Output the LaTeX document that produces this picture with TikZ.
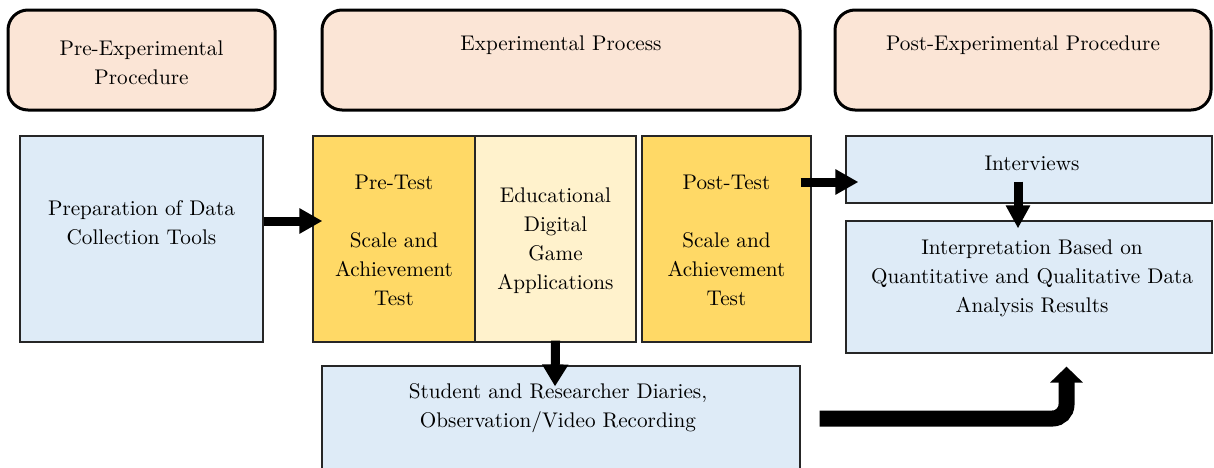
\documentclass[tikz,border=0pt]{standalone}
\usetikzlibrary{arrows.meta,calc}

\definecolor{peach}{HTML}{FBE5D6}
\definecolor{paleblue}{HTML}{DEEBF7}
\definecolor{gold}{HTML}{FFD966}
\definecolor{palegold}{HTML}{FFF2CC}

\begin{document}
\begin{tikzpicture}[x=0.5pt, y=-0.5pt,
	phase/.style={draw, line width=1.5pt, rounded corners=10pt, fill=peach, inner sep=0pt},
	stage/.style={draw=black!85, line width=0.6pt, inner sep=0pt},
	txt/.style={align=center, font=\fontsize{10.6}{14.5}\selectfont, inner sep=0pt},
	blockarrow/.style={line width=4.5pt, -{Triangle[width=12pt,length=11.5pt]}}]
	
	\clip (0,0) rectangle (1214,467);
	
	% the three phases
	\node [phase, minimum width=133.5pt, minimum height=50pt] (pre)  at ( 141.5, 60) {};
	\node [phase, minimum width=239pt,   minimum height=50pt] (exp)  at ( 561,   60) {};
	\node [phase, minimum width=188pt,   minimum height=50pt] (post) at (1023,   60) {};
	
	\node [txt] (pretxt)  at ( 141.5, 62.5) {Pre-Experimental\\Procedure};
	\node [txt] (exptxt)  at ( 561,   45)   {Experimental Process};
	\node [txt] (posttxt) at (1023,   45)   {Post-Experimental Procedure};
	
	% steps
	\node [stage, fill=paleblue, minimum width=121.5pt, minimum height=103pt] (prep)       at ( 141.5, 239)   {};
	\node [stage, fill=gold,     minimum width=81pt,    minimum height=103pt] (pretest)    at ( 394,   239)   {};
	\node [stage, fill=palegold, minimum width=80.5pt,  minimum height=103pt] (edu)        at ( 555.5, 239)   {};
	\node [stage, fill=gold,     minimum width=84.5pt,  minimum height=103pt] (posttest)   at ( 726.5, 239)   {};
	\node [stage, fill=paleblue, minimum width=183pt,   minimum height=33.5pt] (interviews) at (1029,   169.5) {};
	\node [stage, fill=paleblue, minimum width=183pt,   minimum height=66pt]  (interp)     at (1029,   287)   {};
	\node [stage, fill=paleblue, minimum width=239pt,   minimum height=57.5pt] (diaries)    at ( 561,   423.5) {};
	
	\node [txt] (preptxt)     at ( 141.5, 223)   {Preparation of Data\\Collection Tools};
	\node [txt] (pretesttxt)  at ( 394,   240.5) {Pre-Test\\~\\Scale and\\Achievement\\Test};
	\node [txt] (edutxt)      at ( 555.5, 240.5) {Educational\\Digital\\Game\\Applications};
	\node [txt] (posttesttxt) at ( 726.5, 240.5) {Post-Test\\~\\Scale and\\Achievement\\Test};
	\node [txt] (intervtxt)   at (1032,   163)   {Interviews};
	\node [txt] (interptxt)   at (1032,   278.5) {Interpretation Based on\\Quantitative and Qualitative Data\\Analysis Results};
	\node [txt] (diariestxt)  at ( 558,   408.5) {Student and Researcher Diaries,\\Observation/Video Recording};
	
	% arrows
	\draw [blockarrow] ($(prep.east)+(0,-18)$) -- ($(pretest.west)+(10,-18)$);
	\draw [blockarrow] ($(posttest.east)+(-11,-57)$) -- ($(interviews.west)+(13,12.5)$);
	\draw [blockarrow, -{Triangle[width=11.5pt,length=11.5pt]}] ($(interviews.south)+(-11,-22)$) -- ($(interp.north)+(-11,8)$);
	\draw [blockarrow, -{Triangle[width=12.5pt,length=11pt]}] ($(edu.south)+(0,-2)$) -- ($(diaries.north)+(-6,21)$);
	\draw [line width=8pt, rounded corners=7pt, -{Triangle[width=16pt,length=8pt]}]
		($(diaries.east)+(19,-5)$) -| ($(interp.south)+(37.5,13)$);
	
\end{tikzpicture}
\end{document}
